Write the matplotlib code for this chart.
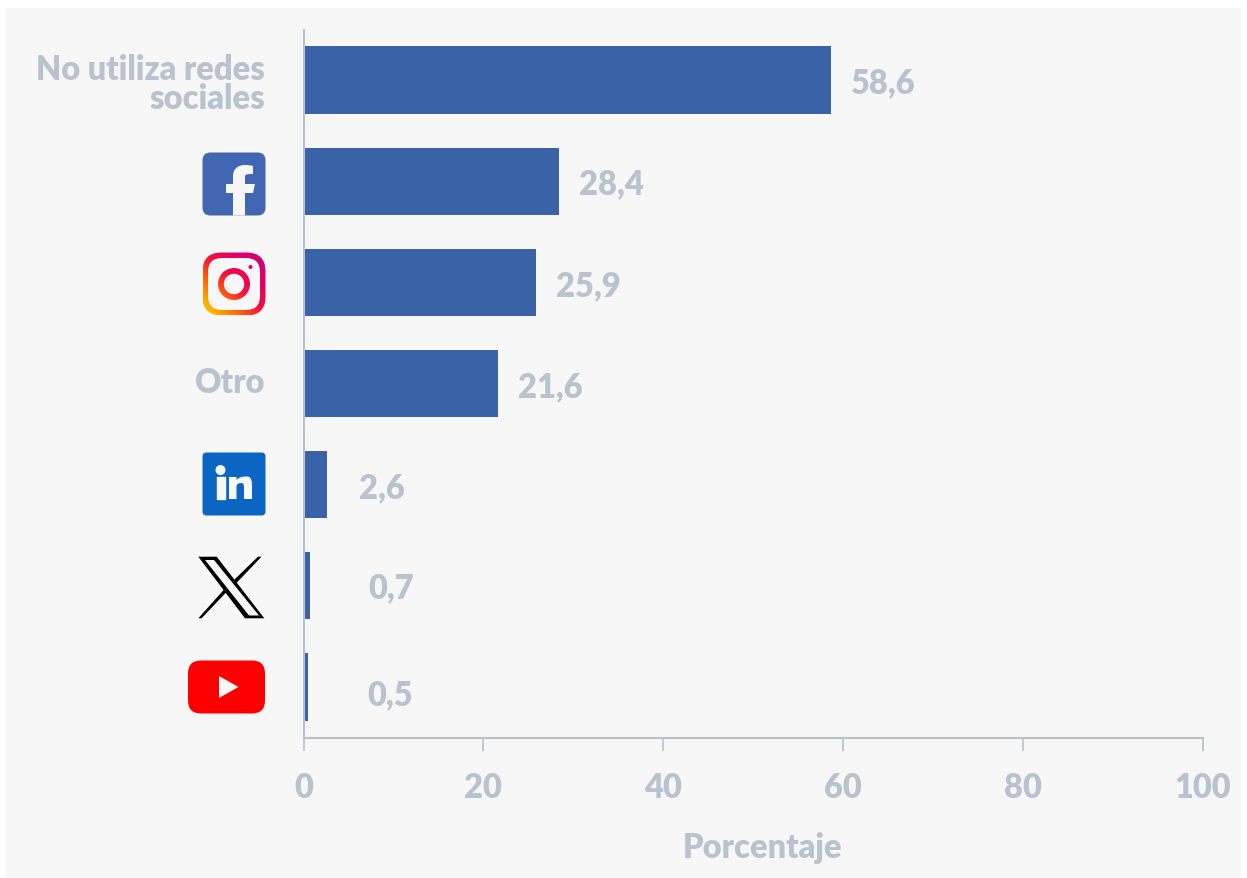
"""Bar chart of social network use, with the network logos drawn as patches."""
import numpy as np
import matplotlib

matplotlib.use('Agg')

import matplotlib.pyplot as plt
from matplotlib.colors import LinearSegmentedColormap
from matplotlib.patches import Circle, FancyBboxPatch, PathPatch, Polygon, Rectangle
from matplotlib.path import Path

categories = ['No utiliza redes\nsociales', 'Facebook', 'Instagram', 'Otro',
              'LinkedIn', 'X', 'YouTube']
values = [58.6, 28.4, 25.9, 21.6, 2.6, 0.7, 0.5]
value_labels = ['58,6', '28,4', '25,9', '21,6', '2,6', '0,7', '0,5']
label_gap_px = [20, 20, 20, 20, 32, 59, 59]
label_dy_px = [2, 2.5, 2.5, 2.5, 3, 2, 7]
text_labels = {'No utiliza redes\nsociales': 3.5, 'Otro': -1.5}
x_ticks = [0, 20, 40, 60, 80, 100]

W, H = 1247, 879
BG = '#f7f7f7'
BAR = '#3a62a7'
GREY = '#b9c3cf'
AXIS = '#b8c2cf'
FONT = 'Lato'
WEIGHT = 'heavy'
FS = 23.5

fig = plt.figure(figsize=(W / 100, H / 100), dpi=100, facecolor='white')
fig.patches.append(Rectangle((6 / W, 0), 1234 / W, 870 / H,
                             transform=fig.transFigure, color=BG, zorder=-5))

left, right, top, bottom = 303.5, 1203, 30.5, 738.5
ax = fig.add_axes([left / W, 1 - bottom / H, (right - left) / W, (bottom - top) / H])
ax.patch.set_alpha(0)

y = np.arange(len(values))
ax.barh(y, values, height=0.665, color=BAR)
ax.set_xlim(0, 100)
ax.set_ylim(len(values) - 0.5, -0.5)

for side in ('top', 'right'):
    ax.spines[side].set_visible(False)
for side in ('left', 'bottom'):
    ax.spines[side].set_color(AXIS)
    ax.spines[side].set_linewidth(1.5)

ax.set_xticks(x_ticks)
ax.set_xticklabels([str(t) for t in x_ticks], family=FONT, weight=WEIGHT,
                   fontsize=FS, color=GREY)
ax.tick_params(axis='x', length=9, width=1.2, color=AXIS, pad=15)
ax.set_yticks([])
ax.set_xlabel('Porcentaje', family=FONT, weight=WEIGHT, fontsize=FS, color=GREY,
              labelpad=20.5, x=0.51)

# Category names that are text rather than a logo
for i, name in enumerate(categories):
    if name in text_labels:
        ax.annotate(name, (0, i), xytext=(-38.5 * 0.72, -text_labels[name] * 0.72),
                    textcoords='offset points', va='center', ha='right',
                    multialignment='right', family=FONT, weight=WEIGHT, fontsize=FS,
                    color=GREY, linespacing=0.88, annotation_clip=False)

for i, v in enumerate(values):
    ax.annotate(value_labels[i], (v, i), xytext=(label_gap_px[i] * 0.72, -label_dy_px[i] * 0.72),
                textcoords='offset points', va='center', ha='left', family=FONT,
                weight=WEIGHT, fontsize=FS, color=GREY)

# Logos live on an overlay in pixel coordinates
ov = fig.add_axes([0, 0, 1, 1])
ov.axis('off')
ov.patch.set_alpha(0)


def rounded(x0, y0, w, h, r, **kw):
    return FancyBboxPatch((x0 + r, y0 + r), w - 2 * r, h - 2 * r,
                          boxstyle=f'round,pad={r},rounding_size={r}',
                          linewidth=0, **kw)


def rrect_path(x0, y0, w, h, r):
    patch = rounded(x0, y0, w, h, r)
    return patch.get_path().transformed(patch.get_patch_transform())


# Facebook
ov.add_patch(rounded(202.5, 152.5, 63, 63, 8, color='#4267b2'))
MV, L4, CU = Path.MOVETO, Path.LINETO, Path.CURVE4
fb_pts = [(233, 215.5), (233, 193), (226, 193), (226, 184), (233, 184), (233, 176),
          (233, 169), (238, 165), (245, 165), (248, 165), (252, 165.5), (253, 166),
          (253, 174), (249, 174), (245, 174), (245, 176), (245, 179), (245, 184),
          (255, 184), (253, 193), (245, 193), (245, 215.5), (233, 215.5)]
fb_codes = [MV, L4, L4, L4, L4, L4, CU, CU, CU, CU, CU, L4, L4, CU, CU, CU, L4, L4,
            L4, L4, L4, L4, L4]
ov.add_patch(PathPatch(Path(fb_pts, fb_codes), fc=BG, lw=0))

# Instagram: a gradient image clipped to the ring shapes
ig_cmap = LinearSegmentedColormap.from_list(
    'ig', ['#ffd600', '#ff7a00', '#f5103a', '#e00068', '#c4007f'])
gx, gy = np.meshgrid(np.linspace(0, 1, 120), np.linspace(0, 1, 120))
grad = (gx + gy) / 2
ig_ext = (202.5, 265.5, 252.5, 315.5)
inner_ring = rrect_path(208, 258, 52, 52, 14)
ring = Path.make_compound_path(rrect_path(202.5, 252.5, 63, 63, 19),
                               Path(inner_ring.vertices[::-1], inner_ring.codes))
for clip in (ring, Path.circle((234, 284), 16), Path.circle((250.5, 267), 2)):
    im = ov.imshow(grad, extent=ig_ext, origin='upper', cmap=ig_cmap, aspect='auto',
                   zorder=3)
    im.set_clip_path(PathPatch(clip, transform=ov.transData))
ov.add_patch(Circle((234, 284), 10.2, color=BG, lw=0, zorder=4))

# LinkedIn
ov.add_patch(rounded(202.5, 452.5, 63, 63, 4, color='#0a66c2'))
ov.add_patch(Circle((220.5, 470), 4.3, color=BG))
ov.add_patch(Rectangle((216.5, 477), 8, 22, color=BG))
li_pts = [(229, 477), (236.5, 477), (236.5, 480), (239, 477), (243, 476.5), (247, 476.5),
          (252, 476.5), (252, 483), (252, 486), (252, 499), (244, 499), (244, 487),
          (244, 484), (243, 483), (241, 483), (238, 483), (236.5, 484.5), (236.5, 487),
          (236.5, 499), (229, 499), (229, 477)]
li_codes = [MV, L4, L4, CU, CU, CU, CU, CU, CU, L4, L4, L4, CU, CU, CU, CU, CU, CU,
            L4, L4, L4]
ov.add_patch(PathPatch(Path(li_pts, li_codes), fc=BG, lw=0))

# X: outlined diagonal with two thin arms
x_bar = [(198.3, 556.7), (216.7, 556.7), (264.3, 618.3), (245, 618.3), (198.3, 556.7)]
x_hole = [(205, 560), (249, 615.5), (259, 615.5), (214, 560), (205, 560)]
x_codes = [MV] + [L4] * 4 + [MV] + [L4] * 4
ov.add_patch(PathPatch(Path(x_bar + x_hole, x_codes), fc='black', lw=0))
ov.add_patch(Polygon([(258, 556.7), (261.5, 556.7), (235.5, 584), (233, 581)],
                     closed=True, fc='black', lw=0))
ov.add_patch(Polygon([(198.3, 618.3), (201.5, 618.3), (226.5, 592), (224.5, 589)],
                     closed=True, fc='black', lw=0))

# YouTube
ov.add_patch(rounded(188, 660.5, 77, 53, 13, color='#ff0000'))
ov.add_patch(Polygon([(219, 676), (219, 698), (238.5, 687)], closed=True, fc=BG, lw=0))

ov.set_xlim(0, W)
ov.set_ylim(H - 1, -1)

fig.savefig('out.png', dpi=100, facecolor='white')
plt.close(fig)
